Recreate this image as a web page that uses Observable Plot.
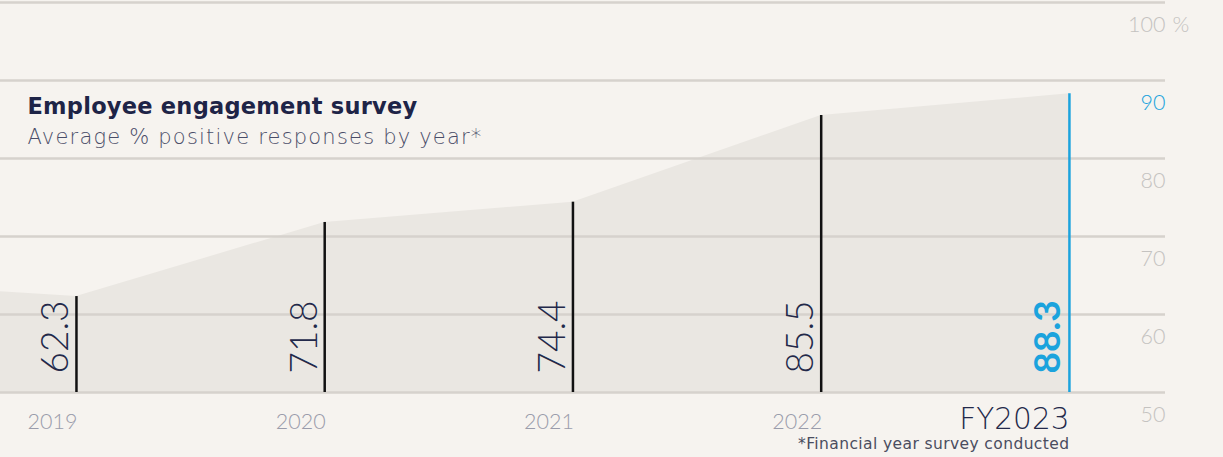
<!DOCTYPE html>
<html>
<head>
<meta charset="utf-8">
<script src="https://cdn.jsdelivr.net/npm/d3@7"></script>
<script src="https://cdn.jsdelivr.net/npm/@observablehq/plot@0.6"></script>
<style>
  html, body { margin: 0; padding: 0; background: #f6f3ef; }
  #chart svg { display: block; }
</style>
</head>
<body>
<div id="chart"></div>
<script>
// Data
const years = [2019, 2020, 2021, 2022, 2023];
const values = [62.3, 71.8, 74.4, 85.5, 88.3];
const yearLabels = ["2019", "2020", "2021", "2022", "FY2023"];
const areaYears = [2018, 2019, 2020, 2021, 2022, 2023];
const areaValues = [64.3, 62.3, 71.8, 74.4, 85.5, 88.3];
const yTicks = [50, 60, 70, 80, 90, 100];
const title = "Employee engagement survey";
const subtitle = "Average % positive responses by year*";
const footnote = "*Financial year survey conducted";

const data = years.map((y, i) => ({year: y, value: values[i], label: yearLabels[i], current: i === years.length - 1}));
const areaData = areaYears.map((y, i) => ({year: y, value: areaValues[i]}));

const navy = "#23294a";
const blue = "#1ba3dd";
const font = "Lato, 'Open Sans', sans-serif";
const wide = "'DejaVu Sans', sans-serif";

const chart = Plot.plot({
  width: 1223,
  height: 457,
  marginLeft: 0,
  marginRight: 58,
  marginTop: 2,
  marginBottom: 65,
  style: {background: "#f6f3ef", fontFamily: font, overflow: "visible"},
  x: {type: "linear", domain: [2018.694, 2023.387], axis: null},
  y: {domain: [50, 100], axis: null},
  marks: [
    Plot.areaY(areaData, {x: "year", y1: 50, y2: "value", fill: "#eae7e2", clip: true}),
    Plot.ruleY(yTicks, {stroke: "#d6d2cd", strokeWidth: 2.5}),
    Plot.ruleX(data, {x: "year", y1: 50, y2: "value", stroke: d => d.current ? blue : "#111111", strokeWidth: 2.5}),
    // value labels
    Plot.text(data.filter(d => !d.current), {x: "year", y: 50, text: d => d.value.toFixed(1), rotate: -90, textAnchor: "start", lineAnchor: "bottom", dx: -8, dy: -19, fontSize: 37, fontWeight: 300, fill: navy}),
    Plot.text(data.filter(d => d.current), {x: "year", y: 50, text: d => d.value.toFixed(1), rotate: -90, textAnchor: "start", lineAnchor: "bottom", dx: -9, dy: -19, fontSize: 37, fontWeight: 700, fill: blue}),
    // year labels
    Plot.text(data.filter(d => !d.current), {x: "year", y: 50, text: "label", textAnchor: "end", lineAnchor: "bottom", dy: 36, dx: 1, fontSize: 21.5, fontWeight: 300, fill: "#9a9cab"}),
    Plot.text(data.filter(d => d.current), {x: "year", y: 50, text: "label", textAnchor: "end", lineAnchor: "bottom", dy: 36, fontSize: 29.5, fontWeight: 200, fontFamily: wide, fill: navy}),
    Plot.text([footnote], {x: 2023, y: 50, textAnchor: "end", lineAnchor: "bottom", dy: 56, fontSize: 15.5, fontFamily: wide, fill: "#4a4d60"}),
    // y tick labels
    Plot.text(yTicks, {x: 2023.387, y: d => d, text: d => String(d), textAnchor: "end", lineAnchor: "bottom", dy: 29, fontSize: 21.5, fontWeight: 300, fill: d => d === 90 ? blue : "#c4c2c0"}),
    Plot.text(["%"], {x: 2023.387, y: 100, textAnchor: "start", lineAnchor: "bottom", dx: 7, dy: 29, fontSize: 21.5, fontWeight: 300, fill: "#c4c2c0"}),
    // title
    Plot.text([title], {frameAnchor: "top-left", textAnchor: "start", lineAnchor: "bottom", dx: 27, dy: 111, fontSize: 22.5, fontWeight: 700, fontFamily: wide, fill: "#1e2447"}),
    Plot.text([subtitle], {frameAnchor: "top-left", textAnchor: "start", lineAnchor: "bottom", dx: 27, dy: 141, fontSize: 21, fontWeight: 200, fontFamily: wide, fill: "#4a4d68"})
  ]
});
d3.select(chart).selectAll("text").each(function () {
  const t = this.textContent;
  if (t === subtitle) this.style.letterSpacing = "1.2px";
  if (t === title) this.style.letterSpacing = "0.25px";
  if (t === footnote) this.style.letterSpacing = "0.4px";
});
document.getElementById("chart").appendChild(chart);
</script>
</body>
</html>
